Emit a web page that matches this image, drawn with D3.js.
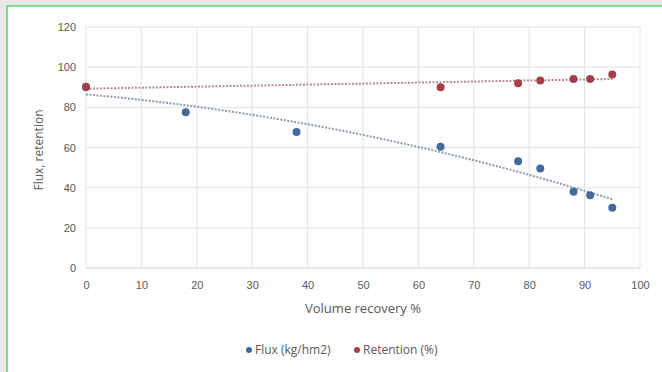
<!DOCTYPE html>
<html><head><meta charset="utf-8">
<script src="https://cdn.jsdelivr.net/npm/d3@7"></script>
<style>
html,body{margin:0;padding:0;background:#e9e9e9;}
svg{display:block;font-family:"Open Sans","Noto Sans",sans-serif;}
</style></head>
<body>
<svg id="chart" width="662" height="372"></svg>
<script>
// Data
const recovery = [0, 18, 38, 64, 78, 82, 88, 91, 95];
const flux = [90, 77.5, 67.7, 60.4, 53.1, 49.5, 38, 36.2, 30];
const retRecovery = [0, 64, 78, 82, 88, 91, 95];
const retention = [90.3, 90, 92, 93.4, 94.1, 94.1, 96.4];
const xTicks = [0,10,20,30,40,50,60,70,80,90,100];
const yTicks = [0,20,40,60,80,100,120];
const seriesNames = ["Flux (kg/hm2)", "Retention (%)"];
const colors = ["#44699d", "#a3404a"];

const svg = d3.select("#chart");
// panel
svg.append("rect").attr("x",7).attr("y",6).attr("width",660).attr("height",380)
  .attr("fill","#ffffff").attr("stroke","#7fe08f").attr("stroke-width",2);

const x = d3.scaleLinear().domain([0,100]).range([86,640]);
const y = d3.scaleLinear().domain([0,120]).range([268,27]);

// grid
svg.append("g").selectAll("line").data(xTicks).join("line")
  .attr("x1",d=>x(d)).attr("x2",d=>x(d)).attr("y1",y(0)).attr("y2",y(120))
  .attr("stroke","#e3e3e3").attr("stroke-width",1);
svg.append("g").selectAll("line").data(yTicks).join("line")
  .attr("x1",x(0)).attr("x2",x(100)).attr("y1",d=>y(d)).attr("y2",d=>y(d))
  .attr("stroke",d=>d===0?"#d0d0d0":"#e3e3e3").attr("stroke-width",1);

// axes labels via d3 axes
const xAxis = d3.axisBottom(x).tickValues(xTicks).tickSize(0).tickPadding(13);
const gx = svg.append("g").attr("transform",`translate(0,${y(0)})`).call(xAxis);
gx.select(".domain").remove();
gx.selectAll("text").attr("fill","#595959").style("font-size","11px");

const yAxis = d3.axisLeft(y).tickValues(yTicks).tickSize(0).tickPadding(10);
const gy = svg.append("g").attr("transform",`translate(${x(0)},0)`).call(yAxis);
gy.select(".domain").remove();
gy.selectAll("text").attr("fill","#595959").style("font-size","11px");

// titles
svg.append("text").attr("x",363).attr("y",313).attr("text-anchor","middle")
  .attr("fill","#595959").style("font-size","13px").text("Volume recovery %");
svg.append("text").attr("transform","translate(43,150) rotate(-90)").attr("text-anchor","middle")
  .attr("fill","#595959").style("font-size","12px").text("Flux, retention");

// least-squares polynomial fit (trendlines)
function polyfit(xs, ys, deg){
  const n = deg+1;
  const A = Array.from({length:n},()=>Array(n+1).fill(0));
  xs.forEach((xv,i)=>{
    for(let r=0;r<n;r++){
      for(let c=0;c<n;c++) A[r][c]+=Math.pow(xv,r+c);
      A[r][n]+=ys[i]*Math.pow(xv,r);
    }
  });
  for(let i=0;i<n;i++){
    let p=i; for(let k=i+1;k<n;k++) if(Math.abs(A[k][i])>Math.abs(A[p][i])) p=k;
    [A[i],A[p]]=[A[p],A[i]];
    for(let k=i+1;k<n;k++){const f=A[k][i]/A[i][i]; for(let c=i;c<=n;c++) A[k][c]-=f*A[i][c];}
  }
  const co=Array(n).fill(0);
  for(let i=n-1;i>=0;i--){let s=A[i][n]; for(let c=i+1;c<n;c++) s-=A[i][c]*co[c]; co[i]=s/A[i][i];}
  return t=>co.reduce((s,c,i)=>s+c*Math.pow(t,i),0);
}
const fFit = polyfit(recovery, flux, 2);
const rFit = polyfit(retRecovery, retention, 1);
const line = d3.line().x(d=>x(d[0])).y(d=>y(d[1]));
const samp = d3.range(0, 95.01, 0.5);
svg.append("path").attr("d", line(samp.map(t=>[t,fFit(t)])))
  .attr("fill","none").attr("stroke","#8c9bb0").attr("stroke-width",2).attr("stroke-dasharray","2,1.5");
svg.append("path").attr("d", line(samp.map(t=>[t,rFit(t)])))
  .attr("fill","none").attr("stroke","#b88a8f").attr("stroke-width",2).attr("stroke-dasharray","2,1.5");

// points
svg.append("g").selectAll("circle").data(recovery.map((r,i)=>[r,flux[i]])).join("circle")
  .attr("cx",d=>x(d[0])).attr("cy",d=>y(d[1])).attr("r",4).attr("fill",colors[0]);
svg.append("g").selectAll("circle").data(retRecovery.map((r,i)=>[r,retention[i]])).join("circle")
  .attr("cx",d=>x(d[0])).attr("cy",d=>y(d[1])).attr("r",4).attr("fill",colors[1]);

// legend
const lg = svg.append("g");
const legendX = [249, 357];
seriesNames.forEach((nm,i)=>{
  lg.append("circle").attr("cx",legendX[i]).attr("cy",350).attr("r",3).attr("fill",colors[i]);
  lg.append("text").attr("x",legendX[i]+6).attr("y",354).attr("fill","#595959")
    .style("font-size","12px").text(nm);
});
</script>
</body></html>
